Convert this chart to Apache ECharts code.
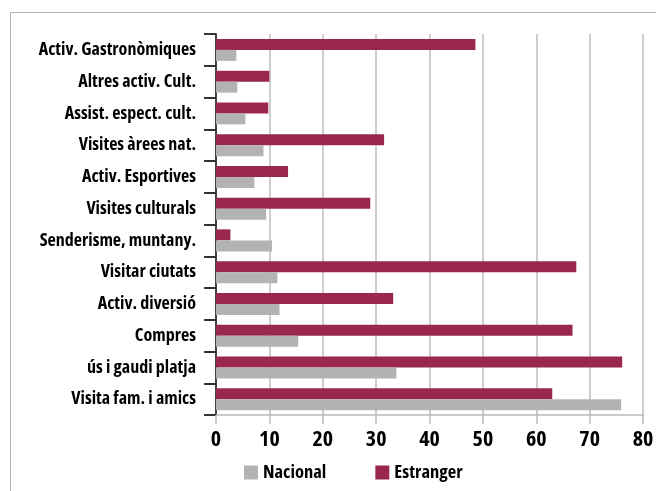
<!DOCTYPE html>
<html>
<head>
<meta charset="utf-8">
<script src="https://cdn.jsdelivr.net/npm/echarts@6/dist/echarts.min.js"></script>
<style>
  html, body { margin: 0; padding: 0; background: #fff; }
  #chart { width: 656px; height: 491px; }
</style>
</head>
<body>
<div id="chart"></div>
<script>
// categories from bottom to top
const activitats = [
  'Visita fam. i amics', 'ús i gaudi platja', 'Compres', 'Activ. diversió',
  'Visitar ciutats', 'Senderisme, muntany.', 'Visites culturals', 'Activ. Esportives',
  'Visites àrees nat.', 'Assist. espect. cult.', 'Altres activ. Cult.', 'Activ. Gastronòmiques'
]
const nacional = [75.9, 33.8, 15.4, 11.9, 11.5, 10.5, 9.4, 7.2, 8.9, 5.5, 4.0, 3.8]
const estranger = [63.0, 76.1, 66.8, 33.2, 67.5, 2.7, 28.9, 13.5, 31.5, 9.8, 10.0, 48.6]
const xTicks = { min: 0, max: 80, interval: 10 }

// condensed bold face, closest to the original narrow headline font
const txt = (size) => ({
  fontFamily: '"Open Sans", sans-serif',
  fontStyle: 'condensed',
  fontWeight: 'bold',
  fontSize: size,
  color: '#000'
})

const chart = echarts.init(document.getElementById('chart'))

const option = {
  animation: false,
  graphic: [
    {
      type: 'rect',
      shape: { x: 10.5, y: 12.5, width: 700, height: 600 },
      style: { fill: 'none', stroke: '#b0b0b0', lineWidth: 1 }
    }
  ],
  legend: {
    data: ['Nacional', 'Estranger'],
    left: 244,
    top: 463,
    padding: 0,
    itemWidth: 14,
    itemHeight: 14,
    itemGap: 49,
    icon: 'rect',
    textStyle: txt(18.5)
  },
  grid: { left: 216, right: 13, top: 34, bottom: 76, outerBoundsMode: 'none' },
  xAxis: {
    type: 'value',
    min: xTicks.min,
    max: xTicks.max,
    interval: xTicks.interval,
    axisLine: { show: true, lineStyle: { color: '#bbb', width: 1.5 } },
    axisTick: { show: true, length: 9, lineStyle: { color: '#bbb', width: 1.5 } },
    axisLabel: Object.assign({ margin: 14 }, txt(22)),
    splitLine: { show: true, lineStyle: { color: '#bdbdbd', width: 1.5 } }
  },
  yAxis: {
    type: 'category',
    data: activitats,
    axisLine: { show: true, lineStyle: { color: '#444', width: 2 } },
    axisTick: { show: true, length: 12, lineStyle: { color: '#333', width: 2 } },
    axisLabel: Object.assign({ margin: 20 }, txt(18))
  },
  series: [
    {
      name: 'Estranger',
      type: 'bar',
      data: estranger,
      itemStyle: { color: '#99284c' },
      barWidth: 11,
      barGap: '0%'
    },
    {
      name: 'Nacional',
      type: 'bar',
      data: nacional,
      itemStyle: { color: '#b3b3b3' },
      barWidth: 11,
      barGap: '0%'
    }
  ]
}

chart.setOption(option)
</script>
</body>
</html>
